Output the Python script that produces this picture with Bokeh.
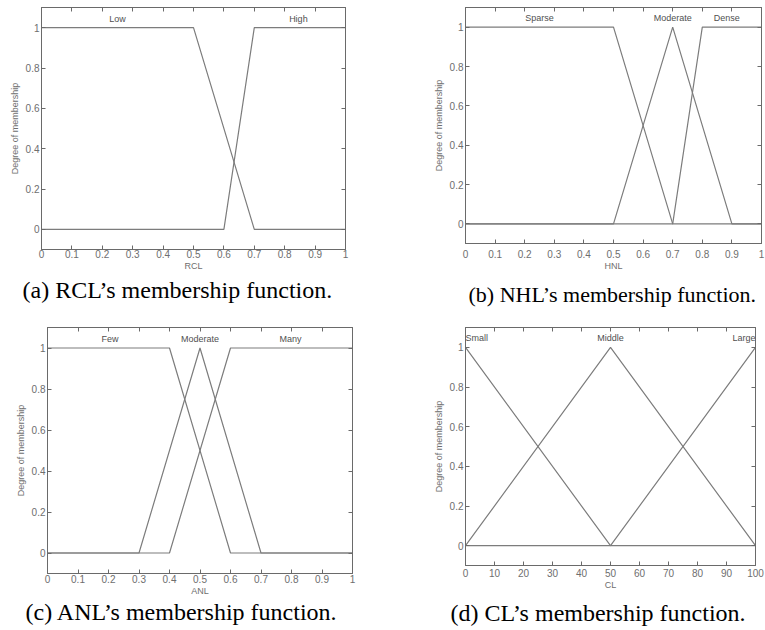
from bokeh.plotting import figure
from bokeh.models import Range1d, LinearAxis, FixedTicker, Label, Title
from bokeh.layouts import column, row
from bokeh.embed import file_html
from bokeh.resources import INLINE

# ---------------- data ----------------
unit_ticks = [0, 0.1, 0.2, 0.3, 0.4, 0.5, 0.6, 0.7, 0.8, 0.9, 1]
unit_tick_labels = ["0", "0.1", "0.2", "0.3", "0.4", "0.5", "0.6", "0.7", "0.8", "0.9", "1"]
cl_ticks = [0, 10, 20, 30, 40, 50, 60, 70, 80, 90, 100]
cl_tick_labels = ["0", "10", "20", "30", "40", "50", "60", "70", "80", "90", "100"]
y_ticks = [0, 0.2, 0.4, 0.6, 0.8, 1]
y_tick_labels = ["0", "0.2", "0.4", "0.6", "0.8", "1"]

# (a) RCL
rcl_low_x = [0, 0.5, 0.7, 1]
rcl_low_y = [1, 1, 0, 0]
rcl_high_x = [0, 0.6, 0.7, 1]
rcl_high_y = [0, 0, 1, 1]
rcl_names = ["Low", "High"]
rcl_name_x = [0.25, 0.845]

# (b) HNL
hnl_sparse_x = [0, 0.5, 0.7, 1]
hnl_sparse_y = [1, 1, 0, 0]
hnl_moderate_x = [0, 0.5, 0.7, 0.9, 1]
hnl_moderate_y = [0, 0, 1, 0, 0]
hnl_dense_x = [0, 0.7, 0.8, 1]
hnl_dense_y = [0, 0, 1, 1]
hnl_names = ["Sparse", "Moderate", "Dense"]
hnl_name_x = [0.25, 0.70, 0.883]

# (c) ANL
anl_few_x = [0, 0.4, 0.6, 1]
anl_few_y = [1, 1, 0, 0]
anl_moderate_x = [0, 0.3, 0.5, 0.7, 1]
anl_moderate_y = [0, 0, 1, 0, 0]
anl_many_x = [0, 0.4, 0.6, 1]
anl_many_y = [0, 0, 1, 1]
anl_names = ["Few", "Moderate", "Many"]
anl_name_x = [0.205, 0.5, 0.797]

# (d) CL
cl_small_x = [0, 50, 100]
cl_small_y = [1, 0, 0]
cl_middle_x = [0, 50, 100]
cl_middle_y = [0, 1, 0]
cl_large_x = [0, 50, 100]
cl_large_y = [0, 0, 1]
cl_names = ["Small", "Middle", "Large"]
cl_name_x = [0, 50, 100]

name_y = 1.045

# ---------------- style ----------------
LINE = "#7c7c7c"
FRAME = "#6a6a6a"
TXT = "#6e6e6e"
SANS = "Liberation Sans"
SERIF = "Liberation Serif"


def make_panel(curves, names, name_x, xr, xticks, xlabels, xlabel, caption,
               frame_w, frame_h, bl, br, bt, bb, cap_offset, cap_standoff,
               cap_size, tick_standoff):
    p = figure(frame_width=frame_w, frame_height=frame_h,
               min_border_left=bl, min_border_right=br,
               min_border_top=bt, min_border_bottom=bb,
               x_range=Range1d(xr[0], xr[1]), y_range=Range1d(-0.1, 1.1),
               output_backend="svg", toolbar_location=None)
    p.grid.visible = False
    p.background_fill_color = "white"
    p.border_fill_color = "white"
    p.outline_line_color = FRAME
    p.outline_line_width = 1

    for cx, cy in curves:
        p.line(cx, cy, line_color=LINE, line_width=1.2)

    for nx, nm in zip(name_x, names):
        if nx == xr[0]:
            al = "left"
        elif nx == xr[1]:
            al = "right"
        else:
            al = "center"
        p.add_layout(Label(x=nx, y=name_y, text=nm,
                           text_align=al, text_baseline="middle",
                           text_font=SANS, text_font_size="9px",
                           text_color="#505050"))

    xover = {t: l for t, l in zip(xticks, xlabels)}
    yover = {t: l for t, l in zip(y_ticks, y_tick_labels)}

    for ax in p.xaxis:
        ax.ticker = FixedTicker(ticks=xticks)
        ax.major_label_overrides = xover
        ax.axis_label = xlabel
        ax.major_label_standoff = tick_standoff
    for ax in p.yaxis:
        ax.ticker = FixedTicker(ticks=y_ticks)
        ax.major_label_overrides = yover
        ax.axis_label = "Degree of membership"
        ax.major_label_standoff = 2

    for ax in list(p.xaxis) + list(p.yaxis):
        ax.axis_line_color = FRAME
        ax.major_tick_line_color = FRAME
        ax.major_tick_in = 4
        ax.major_tick_out = 0
        ax.minor_tick_line_color = None
        ax.major_label_text_font = SANS
        ax.major_label_text_font_size = "10px"
        ax.major_label_text_color = TXT
        ax.axis_label_text_font = SANS
        ax.axis_label_text_font_size = "9px"
        ax.axis_label_text_font_style = "normal"
        ax.axis_label_text_color = TXT
    for ax in p.xaxis:
        ax.axis_label_standoff = 0
    for ax in p.yaxis:
        ax.axis_label_standoff = 3

    top = LinearAxis(ticker=FixedTicker(ticks=xticks), major_label_text_font_size="1px",
                     major_label_text_color=None,
                     major_label_standoff=0, major_tick_in=4, major_tick_out=0,
                     minor_tick_line_color=None, axis_line_color=FRAME,
                     major_tick_line_color=FRAME)
    right = LinearAxis(ticker=FixedTicker(ticks=y_ticks), major_label_text_font_size="1px",
                       major_label_text_color=None,
                       major_label_standoff=0, major_tick_in=4, major_tick_out=0,
                       minor_tick_line_color=None, axis_line_color=FRAME,
                       major_tick_line_color=FRAME)
    p.add_layout(top, "above")
    p.add_layout(right, "right")

    t = Title(text=caption, align="left", offset=cap_offset, standoff=cap_standoff,
              vertical_align="top",
              text_font=SERIF, text_font_size=cap_size, text_font_style="normal",
              text_color="black")
    p.add_layout(t, "below")
    return p


pa = make_panel([(rcl_low_x, rcl_low_y), (rcl_high_x, rcl_high_y)],
                rcl_names, rcl_name_x, (0, 1), unit_ticks, unit_tick_labels, "RCL",
                "(a) RCL\u2019s membership function.",
                304, 242, 41, 85, 5, 70, -19, 6, "24px", 0)
pb = make_panel([(hnl_sparse_x, hnl_sparse_y), (hnl_moderate_x, hnl_moderate_y),
                 (hnl_dense_x, hnl_dense_y)],
                hnl_names, hnl_name_x, (0, 1), unit_ticks, unit_tick_labels, "HNL",
                "(b) NHL\u2019s membership function.",
                296, 236, 33, 6, 7, 74, 3, 16, "22px", 6)
pc = make_panel([(anl_few_x, anl_few_y), (anl_moderate_x, anl_moderate_y),
                 (anl_many_x, anl_many_y)],
                anl_names, anl_name_x, (0, 1), unit_ticks, unit_tick_labels, "ANL",
                "(c) ANL\u2019s membership function.",
                305, 246, 47, 78, 5, 62, -22, 0, "24px", 1)
pd_ = make_panel([(cl_small_x, cl_small_y), (cl_middle_x, cl_middle_y),
                  (cl_large_x, cl_large_y)],
                 cl_names, cl_name_x, (0, 100), cl_ticks, cl_tick_labels, "CL",
                 "(d) CL\u2019s membership function.",
                 290, 238, 33, 12, 10, 65, -15, 15, "24px", 3)

layout = column(row(pa, pb), row(pc, pd_))

with open("out.html", "w") as f:
    f.write(file_html(layout, INLINE))
